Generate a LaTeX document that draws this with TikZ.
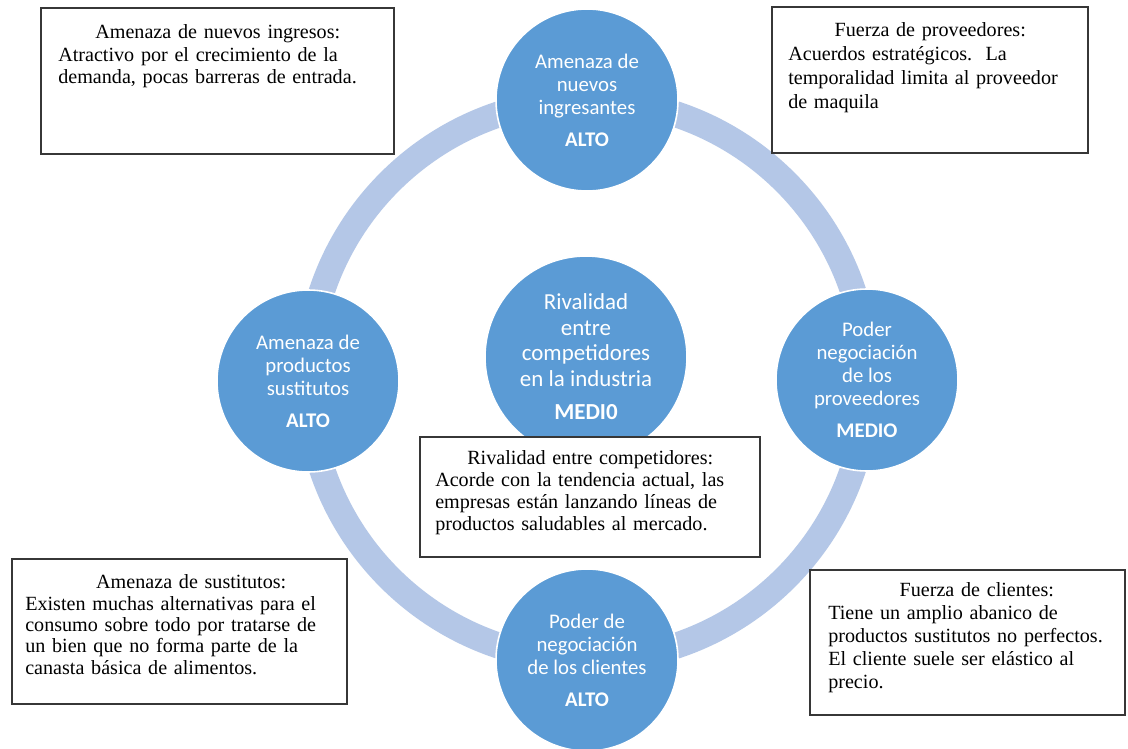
\documentclass[tikz,border=0pt]{standalone}
\usepackage{fontspec}
\setmainfont{Liberation Serif}
\newfontfamily\calib{Carlito}
\usetikzlibrary{calc}
\definecolor{cfill}{RGB}{91,155,213}
\definecolor{cring}{RGB}{180,199,231}
\definecolor{cbord}{RGB}{55,55,55}
\begin{document}
\begin{tikzpicture}[x=0.75pt,y=-0.75pt,
  force/.style={circle, fill=cfill, draw=white, line width=1.2pt, minimum size=#1, inner sep=0pt,
    text=white, align=center, font=\calib\fontsize{15.6}{17.25}\selectfont},
  frame/.style={draw=cbord, line width=1.1pt, fill=white, anchor=north west, inner sep=0pt, outer sep=0pt},
  note/.style={anchor=north west, inner sep=0pt, align=left, text=black,
    font=\fontsize{15.1}{#1}\selectfont},
]
\fill[white] (0,0) rectangle (1128,749);
\useasboundingbox (0,0) rectangle (1128,749);

% ring
\coordinate (rc) at (587.5,380);
\draw[cring, line width=19.5pt] (rc) circle [radius=210pt];

% circles
\node[force=136.5pt] (top) at (587,100) {Amenaza de\\nuevos\\ingresantes\\[6.8pt]\textbf{ALTO}};
\node[force=136.5pt] (left) at (308,381) {Amenaza de\\productos\\sustitutos\\[6.8pt]\textbf{ALTO}};
\node[force=136.5pt] (right) at (867,380) {Poder\\negociación\\de los\\proveedores\\[6.4pt]\textbf{MEDIO}};
\node[force=136.5pt] (bottom) at (587,660) {Poder de\\negociación\\de los clientes\\[6.6pt]\textbf{ALTO}};
\node[force=151.5pt, font=\calib\fontsize{17.2}{19.1}\selectfont] (center) at (586,357)
  {Rivalidad\\entre\\competidores\\en la industria\\[6pt]\textbf{MEDI0}};

% boxes
\node[frame, minimum width=264.75pt, minimum height=109.5pt] (b1) at (41,8) {};
\node[note=16.9pt, text width=239.25pt] (t1) at (58,24.6)
  {{\centering Amenaza de nuevos ingresos:\par}Atractivo por el crecimiento de la\\demanda, pocas barreras de entrada.};

\node[frame, minimum width=237pt, minimum height=109.5pt] (b2) at (772,7) {};
\node[note=18pt, text width=213pt] (t2) at (788,22.3)
  {{\centering Fuerza de proveedores:\par}Acuerdos estratégicos.\ \ La\\temporalidad limita al proveedor\\de maquila};

\node[frame, minimum width=255pt, minimum height=90pt] (b3) at (420,437) {};
\node[note=16.5pt, text width=232.5pt] (t3) at (435,450.6)
  {{\centering Rivalidad entre competidores:\par}Acorde con la tendencia actual, las\\empresas están lanzando líneas de\\productos saludables al mercado.};

\node[frame, minimum width=251.25pt, minimum height=108.75pt] (b4) at (12,559) {};
\node[note=16.1pt, text width=249pt] (t4) at (25,574.3)
  {{\centering Amenaza de sustitutos:\par}Existen muchas alternativas para el\\consumo sobre todo por tratarse de\\un bien que no forma parte de la\\canasta básica de alimentos.};

\node[frame, minimum width=236.25pt, minimum height=108.75pt] (b5) at (810,570) {};
\node[note=17.25pt, text width=222.75pt] (t5) at (828,582.3)
  {{\centering Fuerza de clientes:\par}Tiene un amplio abanico de\\productos sustitutos no perfectos.\\El cliente suele ser elástico al\\precio.};
\end{tikzpicture}
\end{document}
